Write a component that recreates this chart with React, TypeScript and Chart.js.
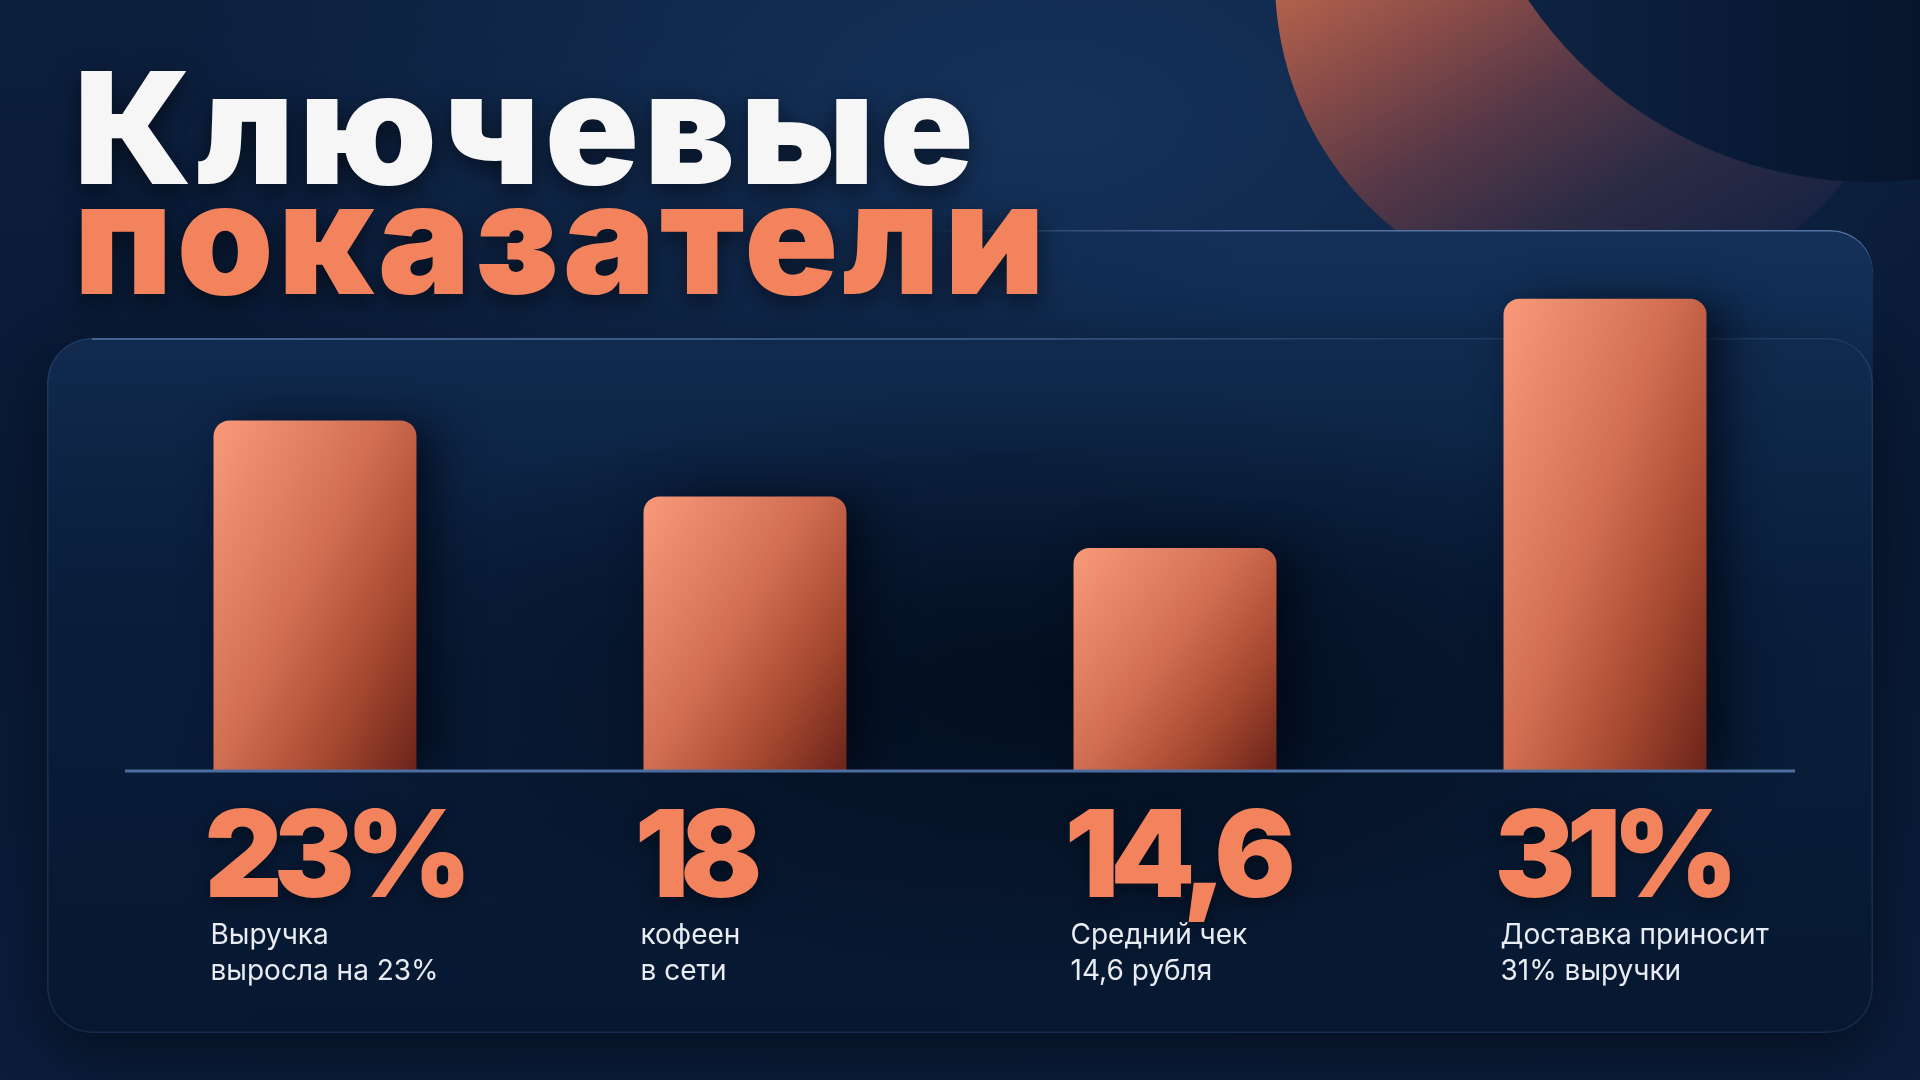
import { useEffect, useRef } from "react";
import { Chart, registerables } from "chart.js";

Chart.register(...registerables);

const categories = ["Выручка", "Кофейни", "Средний чек", "Доставка"];
const values = [23, 18, 14.6, 31];
const valueLabels = ["23%", "18", "14,6", "31%"];
const captionTop = ["Выручка", "кофеен", "Средний чек", "Доставка приносит"];
const captionBottom = ["выросла на 23%", "в сети", "14,6 рубля", "31% выручки"];

const ORANGE = "#f3835d";
const BAR_PCT = 0.472;

// soft dark shadow behind the bars
const barShadow = {
  id: "barShadow",
  beforeDatasetsDraw(chart: any) {
    const ctx = chart.ctx;
    ctx.save();
    ctx.shadowColor = "rgba(0, 4, 14, 0.7)";
    ctx.shadowBlur = 45;
    ctx.shadowOffsetX = 18;
    ctx.shadowOffsetY = 4;
  },
  afterDatasetsDraw(chart: any) {
    chart.ctx.restore();
  },
};

// baseline + big numbers + captions under each bar
const kpiLabels = {
  id: "kpiLabels",
  afterDatasetsDraw(chart: any) {
    const { ctx, chartArea } = chart;
    const y0 = chart.scales.y.getPixelForValue(0);

    ctx.save();
    ctx.strokeStyle = "#4c6e9f";
    ctx.lineWidth = 3;
    ctx.beginPath();
    ctx.moveTo(chartArea.left + 25, y0 + 1);
    ctx.lineTo(chartArea.right - 25, y0 + 1);
    ctx.stroke();

    const meta = chart.getDatasetMeta(0);
    meta.data.forEach((bar: any, i: number) => {
      const { x, width } = bar.getProps(["x", "width"], true);
      const left = x - width / 2;

      ctx.textBaseline = "alphabetic";
      ctx.textAlign = "left";
      ctx.font = "900 121px Inter";
      ctx.letterSpacing = "-9px";
      ctx.fillStyle = ORANGE;
      ctx.shadowColor = "rgba(0, 0, 0, 0.45)";
      ctx.shadowBlur = 18;
      ctx.shadowOffsetY = 4;
      ctx.fillText(valueLabels[i], left - 9, y0 + 127);

      ctx.shadowColor = "transparent";
      ctx.shadowBlur = 0;
      ctx.shadowOffsetY = 0;
      ctx.font = "400 28px Inter";
      ctx.letterSpacing = "0px";
      ctx.fillStyle = "#e9ecf2";
      ctx.fillText(captionTop[i], left - 3, y0 + 174);
      ctx.fillText(captionBottom[i], left - 3, y0 + 210);
    });
    ctx.restore();
  },
};

function KpiChart() {
  const chartRef = useRef<HTMLCanvasElement>(null);
  const chartInstance = useRef<Chart | null>(null);

  useEffect(() => {
    if (!chartRef.current) return;
    if (chartInstance.current) chartInstance.current.destroy();

    const ctx = chartRef.current.getContext("2d");
    if (!ctx) return;

    chartInstance.current = new Chart(ctx, {
      type: "bar",
      data: {
        labels: categories,
        datasets: [
          {
            data: values,
            barPercentage: BAR_PCT,
            categoryPercentage: 1,
            borderRadius: 16,
            borderSkipped: "bottom",
            backgroundColor: (c: any) => {
              const chart = c.chart;
              const { chartArea, scales } = chart;
              if (!chartArea || c.dataIndex === undefined) return ORANGE;
              const xs = scales.x;
              const ys = scales.y;
              const cx = xs.getPixelForValue(c.dataIndex);
              const w = (xs.width / categories.length) * BAR_PCT;
              const top = ys.getPixelForValue(values[c.dataIndex]);
              const h = ys.getPixelForValue(0) - top;
              // t = 0.55*x/w + 0.45*y/h across each bar
              const vx = 0.55 / w;
              const vy = 0.45 / h;
              const n = vx * vx + vy * vy;
              const x0 = cx - w / 2;
              const g = chart.ctx.createLinearGradient(x0, top, x0 + vx / n, top + vy / n);
              g.addColorStop(0, "#f89a7a");
              g.addColorStop(0.45, "#d26f53");
              g.addColorStop(0.75, "#a4472f");
              g.addColorStop(1, "#6a241a");
              return g;
            },
          },
        ],
      },
      options: {
        animation: false,
        responsive: true,
        maintainAspectRatio: false,
        layout: { padding: { left: 100, right: 100, top: 238, bottom: 310 } },
        plugins: {
          legend: { display: false },
          tooltip: { enabled: false },
        },
        scales: {
          x: { display: false },
          y: { display: false, min: 0, max: 35 },
        },
      },
      plugins: [barShadow, kpiLabels],
    });

    return () => {
      if (chartInstance.current) {
        chartInstance.current.destroy();
        chartInstance.current = null;
      }
    };
  }, []);

  return (
    <div style={{ position: "absolute", left: 0, top: 0, width: 1920, height: 1080 }}>
      <canvas ref={chartRef} />
    </div>
  );
}

export default function App() {
  return (
    <div
      style={{
        position: "fixed",
        left: 0,
        top: 0,
        width: 1920,
        height: 1080,
        overflow: "hidden",
        background:
          "radial-gradient(ellipse 900px 500px at 1050px 120px, rgba(22,52,94,0.9) 0%, rgba(22,52,94,0) 100%), linear-gradient(180deg, #0c1f3d 0%, #091934 50%, #0b1d3b 100%)",
      }}
    >
      {/* orange disc */}
      <div
        style={{
          position: "absolute",
          left: 1595 - 320,
          top: -20 - 320,
          width: 640,
          height: 640,
          borderRadius: "50%",
          background:
            "linear-gradient(150deg, #b4634c 33%, #8a4c48 45%, #563847 58%, #2c2b45 72%, #1a2442 85%)",
        }}
      />
      {/* dark disc overlapping */}
      <div
        style={{
          position: "absolute",
          left: 1870 - 412,
          top: -230 - 412,
          width: 824,
          height: 824,
          borderRadius: "50%",
          background: "linear-gradient(90deg, #0e2444 5%, #091a36 35%, #061428 65%)",
        }}
      />
      {/* back glass panel */}
      <div
        style={{
          position: "absolute",
          left: 600,
          top: 230,
          width: 1873 - 600,
          height: 1033 - 230,
          borderRadius: 42,
          background: "linear-gradient(180deg, #133058 0%, #0f2a4f 20%, #0b2040 100%)",
          boxShadow: "inset 0 1.5px 0 rgba(140,170,220,0.55)",
          WebkitMaskImage: "linear-gradient(90deg, transparent 0%, transparent 25%, black 50%)",
          maskImage: "linear-gradient(90deg, transparent 0%, transparent 25%, black 50%)",
        }}
      />
      {/* front glass panel */}
      <div
        style={{
          position: "absolute",
          left: 47,
          top: 338,
          width: 1873 - 47,
          height: 1033 - 338,
          borderRadius: 45,
          background:
            "radial-gradient(ellipse 800px 300px at 55% 50%, rgba(3,12,26,0.85) 0%, rgba(3,12,26,0) 100%), linear-gradient(180deg, rgba(17,43,79,0.97) 0%, rgba(10,31,61,0.97) 35%, rgba(7,24,48,0.97) 100%)",
          boxShadow: "inset 0 0 0 1.5px rgba(80,120,180,0.22), 0 20px 60px rgba(0,0,0,0.45)",
        }}
      />
      <div
        style={{
          position: "absolute",
          left: 92,
          top: 338,
          width: 1300,
          height: 2,
          background:
            "linear-gradient(90deg, rgba(120,160,215,0.45), rgba(120,160,215,0.25) 70%, rgba(120,160,215,0))",
        }}
      />
      {/* title */}
      <div
        style={{
          position: "absolute",
          left: 74,
          top: 73,
          fontFamily: "Inter, 'Noto Sans', sans-serif",
          fontWeight: 900,
          fontSize: 155,
          lineHeight: "110px",
          letterSpacing: "0.033em",
          whiteSpace: "nowrap",
          textShadow: "0 8px 24px rgba(0,0,0,0.55)",
        }}
      >
        <div style={{ color: "#f6f6f7" }}>Ключевые</div>
        <div style={{ color: ORANGE, letterSpacing: "0.028em" }}>показатели</div>
      </div>
      <KpiChart />
    </div>
  );
}
